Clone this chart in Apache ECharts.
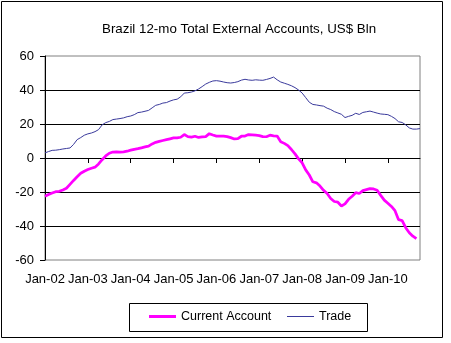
<!DOCTYPE html>
<html><head><meta charset="utf-8">
<script src="https://cdn.jsdelivr.net/npm/echarts@6/dist/echarts.min.js"></script>
<style>html,body{margin:0;padding:0;background:#fff}#c{width:451px;height:343px}</style>
</head><body><div id="c"></div>
<script>
const titleText = 'Brazil 12-mo Total External Accounts, US$ Bln';
const startYear = 2002;
const monthCount = 106; // Jan-02 .. Oct-10
const monthNames = ['Jan','Feb','Mar','Apr','May','Jun','Jul','Aug','Sep','Oct','Nov','Dec'];
const categories = [];
for (let i = 0; i < monthCount; i++) {
  const y = (startYear + Math.floor(i / 12)) % 100;
  categories.push(monthNames[i % 12] + '-' + (y < 10 ? '0' + y : '' + y));
}
const currentAccount = [
  -22.5, -21.5, -20.6, -19.8, -19.6, -18.8, -17.8, -15.5, -13.2, -11.0, -9.0, -7.8,
  -6.8, -6.0, -5.4, -3.5, -1.0, 1.2, 2.8, 3.5, 3.6, 3.5, 3.6, 4.0,
  4.6, 5.1, 5.5, 6.0, 6.5, 7.0, 8.3, 9.2, 9.8, 10.3, 10.8, 11.3,
  11.8, 11.8, 12.2, 13.8, 12.6, 12.3, 12.8, 12.1, 12.4, 12.6, 14.3, 13.5,
  12.9, 12.9, 12.9, 12.6, 12.0, 11.2, 11.4, 12.8, 12.9, 13.8, 13.6, 13.4,
  13.2, 12.6, 12.5, 13.4, 13.0, 12.9, 9.6, 8.6, 7.3, 5.0, 2.4, -0.5,
  -2.8, -7.0, -10.0, -14.0, -14.6, -16.5, -19.0, -20.9, -23.8, -25.6, -26.0, -28.2,
  -27.0, -24.3, -22.5, -20.4, -20.9, -19.2, -18.6, -18.0, -18.2, -19.0, -22.0, -24.8,
  -26.6, -28.5, -31.0, -36.3, -36.8, -41.0, -44.0, -46.0, -47.4, null
];
const trade = [
  3.0, 3.8, 4.5, 4.6, 4.9, 5.3, 5.6, 5.9, 8.0, 10.8, 12.0, 13.4,
  14.2, 14.7, 15.5, 16.7, 19.5, 20.8, 21.5, 22.6, 22.9, 23.2, 23.6, 24.3,
  24.7, 25.5, 26.7, 27.0, 27.5, 28.0, 29.5, 31.0, 31.5, 32.3, 32.6, 33.5,
  34.2, 34.6, 36.0, 38.2, 38.4, 38.8, 39.5, 40.6, 42.0, 43.5, 44.5, 45.3,
  45.5, 45.2, 44.7, 44.3, 44.1, 44.4, 44.9, 45.8, 46.3, 45.9, 45.7, 46.0,
  45.8, 45.7, 46.2, 46.8, 47.6, 46.0, 44.7, 44.0, 43.3, 42.5, 41.4, 40.0,
  38.2, 35.5, 32.8, 31.5, 31.2, 30.8, 30.5, 29.3, 28.5, 27.3, 26.5, 25.7,
  23.8, 24.5, 25.1, 26.3, 25.6, 26.8, 27.2, 27.6, 27.0, 26.4, 25.9, 25.7,
  25.5, 24.5, 23.2, 21.3, 20.9, 19.5, 17.7, 17.0, 17.0, 17.3
];
const yMin = -60, yMax = 60, yStep = 20;
const seriesNames = ['Current Account', 'Trade'];
const seriesColors = ['#ff00ff', '#3a3a9c'];

const FONT = 'Arial, "Liberation Sans", sans-serif';
const chart = echarts.init(document.getElementById('c'), null, {renderer: 'canvas'});
const yearTick = (idx) => idx % 12 === 0;
const legendText = {fontFamily: FONT, fontSize: 12.5, color: '#000'};
chart.setOption({
  animation: false,
  backgroundColor: '#fff',
  title: {
    text: titleText, left: 97, top: 18,
    textStyle: {fontFamily: FONT, fontSize: 13.33, fontWeight: 'normal', color: '#000'}
  },
  graphic: [{
    type: 'rect', shape: {x: 1.5, y: 1.5, width: 441, height: 336},
    style: {fill: null, stroke: '#000', lineWidth: 1}, silent: true, z: 100
  }, {
    type: 'rect', shape: {x: 129.5, y: 303.5, width: 238, height: 28},
    style: {fill: null, stroke: '#000', lineWidth: 1}, silent: true, z: 100
  }],
  legend: [{
    data: [seriesNames[0]], left: 149, top: 310, icon: 'rect',
    itemWidth: 27, itemHeight: 3, padding: 0, selectedMode: false,
    textStyle: legendText
  }, {
    data: [seriesNames[1]], left: 287, top: 310, icon: 'rect',
    itemWidth: 27, itemHeight: 1, padding: 0, selectedMode: false,
    textStyle: legendText
  }],
  grid: {left: 45, right: 31, top: 56, bottom: 83, show: true, borderColor: '#808080', borderWidth: 1, containLabel: false},
  xAxis: [{
    type: 'category', data: categories, boundaryGap: false,
    axisLine: {onZero: true, lineStyle: {color: '#000', width: 1}},
    axisTick: {show: true, interval: yearTick, length: 5, inside: false, lineStyle: {color: '#000'}},
    axisLabel: {show: false},
    splitLine: {show: false}
  }, {
    type: 'category', data: categories, boundaryGap: false, position: 'bottom',
    axisLine: {show: false, onZero: false},
    axisTick: {show: false},
    axisLabel: {show: true, interval: yearTick, margin: 13, color: '#000', fontFamily: FONT, fontSize: 13, hideOverlap: false},
    splitLine: {show: false}
  }],
  yAxis: {
    type: 'value', min: yMin, max: yMax, interval: yStep,
    axisLine: {show: true, lineStyle: {color: '#000', width: 1}},
    axisTick: {show: true, length: 5, lineStyle: {color: '#000'}},
    axisLabel: {margin: 11, color: '#000', fontFamily: FONT, fontSize: 13},
    splitLine: {show: true, showMinLine: false, showMaxLine: false, lineStyle: {color: '#000', width: 1}}
  },
  series: [{
    name: seriesNames[0], type: 'line', data: currentAccount, xAxisIndex: 0,
    showSymbol: false, symbol: 'none', smooth: false, connectNulls: false,
    lineStyle: {color: seriesColors[0], width: 2.75}, itemStyle: {color: seriesColors[0]}, z: 3
  }, {
    name: seriesNames[1], type: 'line', data: trade, xAxisIndex: 0,
    showSymbol: false, symbol: 'none', smooth: false,
    lineStyle: {color: seriesColors[1], width: 1}, itemStyle: {color: seriesColors[1]}, z: 2
  }]
});
</script></body></html>
